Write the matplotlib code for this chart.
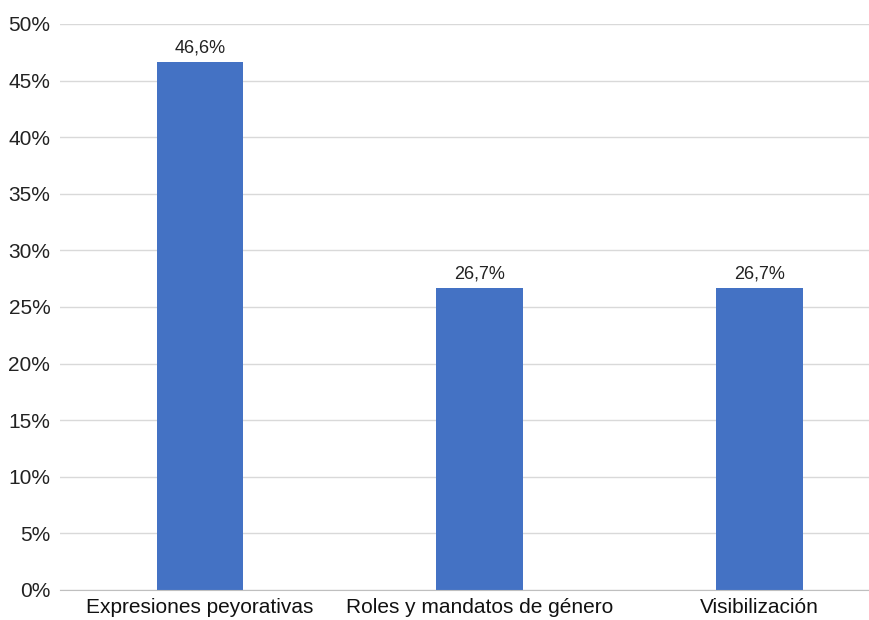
import matplotlib
matplotlib.use("Agg")
import matplotlib.pyplot as plt

categories = ["Expresiones peyorativas", "Roles y mandatos de género", "Visibilización"]
values = [46.6, 26.7, 26.7]
labels = ["46,6%", "26,7%", "26,7%"]
yticks = [0, 5, 10, 15, 20, 25, 30, 35, 40, 45, 50]

plt.rcParams['font.family'] = ['Liberation Sans', 'DejaVu Sans']

fig = plt.figure(figsize=(8.7, 6.2), dpi=100)
ax = fig.add_axes([0.069, 0.0484, 0.965, 0.913])

x = range(len(categories))
bars = ax.bar(x, values, width=0.31, color="#4472C4", zorder=3)
for b, lab in zip(bars, labels):
    ax.text(b.get_x() + b.get_width() / 2, b.get_height() + 0.5, lab,
            ha="center", va="bottom", fontsize=13, color="#222222")

ax.set_xlim(-0.5, 2.5)
ax.set_ylim(0, 50)
ax.set_yticks(yticks)
ax.set_yticklabels([f"{t}%" for t in yticks], fontsize=15, color="#222222")
ax.set_xticks(list(x))
ax.set_xticklabels(categories, fontsize=15, color="#111111")
ax.tick_params(axis="y", length=0, pad=7)
ax.tick_params(axis="x", length=0, pad=6)
ax.grid(axis="y", color="#d9d9d9", linewidth=1, zorder=0)
for s in ["top", "right", "left"]:
    ax.spines[s].set_visible(False)
ax.spines["bottom"].set_color("#bfbfbf")
ax.spines["bottom"].set_zorder(4)

plt.savefig("out.png", dpi=100)
